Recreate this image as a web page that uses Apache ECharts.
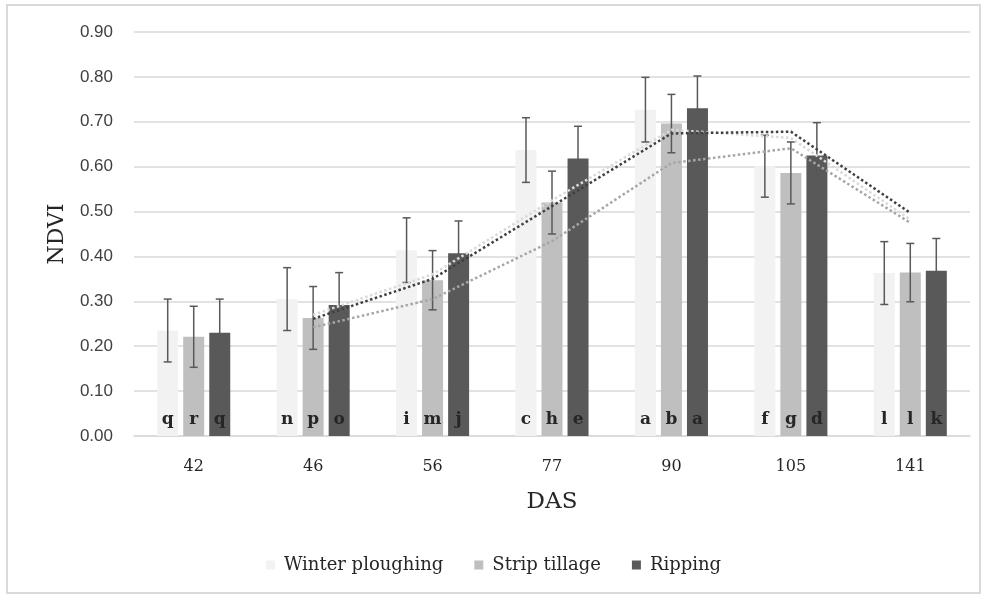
<!DOCTYPE html>
<html>
<head>
<meta charset="utf-8">
<script src="https://cdn.jsdelivr.net/npm/echarts@6/dist/echarts.min.js"></script>
<style>
  html, body { margin: 0; padding: 0; background: #fff; }
  #chart { width: 987px; height: 597px; }
</style>
</head>
<body>
<div id="chart"></div>
<script>
// categories (days after sowing)
var das = ['42', '46', '56', '77', '90', '105', '141'];

// mean NDVI per treatment
var winterPloughing = [0.235, 0.305, 0.414, 0.637, 0.727, 0.601, 0.363];
var stripTillage = [0.221, 0.263, 0.347, 0.520, 0.696, 0.586, 0.364];
var ripping = [0.230, 0.292, 0.407, 0.618, 0.730, 0.625, 0.368];

// error bar half lengths
var winterErr = [0.070, 0.070, 0.072, 0.072, 0.072, 0.069, 0.070];
var stripErr = [0.068, 0.070, 0.066, 0.070, 0.065, 0.069, 0.065];
var rippingErr = [0.075, 0.072, 0.072, 0.072, 0.072, 0.073, 0.072];

// significance letters
var winterLetters = ['q', 'n', 'i', 'c', 'a', 'f', 'l'];
var stripLetters = ['r', 'p', 'm', 'h', 'b', 'g', 'l'];
var rippingLetters = ['q', 'o', 'j', 'e', 'a', 'd', 'k'];

// dotted trend lines (2 period moving average)
var winterTrend = [null, 0.270, 0.360, 0.525, 0.682, 0.664, 0.482];
var stripTrend = [null, 0.242, 0.305, 0.434, 0.608, 0.641, 0.475];
var rippingTrend = [null, 0.261, 0.350, 0.512, 0.674, 0.678, 0.497];

var yTicks = ['0.00', '0.10', '0.20', '0.30', '0.40', '0.50', '0.60', '0.70', '0.80', '0.90'];

var colors = ['#f2f2f2', '#bfbfbf', '#595959'];
var serif = 'DejaVu Serif';

function barSeries(name, values, letters, color) {
  return {
    name: name,
    type: 'bar',
    data: values,
    barWidth: 21,
    barGap: '24%',
    itemStyle: { color: color },
    z: 2,
    label: {
      show: true,
      position: 'insideBottom',
      distance: 8,
      formatter: function (p) { return letters[p.dataIndex]; },
      fontFamily: serif,
      fontWeight: 'bold',
      fontSize: 17,
      color: '#262626'
    }
  };
}

function errSeries(name, values, errs, offset) {
  var data = values.map(function (v, i) { return [i, v - errs[i], v + errs[i]]; });
  return {
    name: name + ' err',
    type: 'custom',
    z: 4,
    silent: true,
    data: data,
    renderItem: function (params, api) {
      var lo = api.coord([api.value(0), api.value(1)]);
      var hi = api.coord([api.value(0), api.value(2)]);
      var x = lo[0] + offset;
      var w = 4;
      var st = { stroke: '#595959', lineWidth: 1.5 };
      return {
        type: 'group',
        children: [
          { type: 'line', shape: { x1: x, y1: lo[1], x2: x, y2: hi[1] }, style: st },
          { type: 'line', shape: { x1: x - w, y1: lo[1], x2: x + w, y2: lo[1] }, style: st },
          { type: 'line', shape: { x1: x - w, y1: hi[1], x2: x + w, y2: hi[1] }, style: st }
        ]
      };
    }
  };
}

function trendSeries(name, values, color) {
  return {
    name: name + ' trend',
    type: 'line',
    data: values,
    z: 5,
    symbol: 'none',
    silent: true,
    connectNulls: false,
    lineStyle: { color: color, width: 2.5, type: [2.5, 2.5], cap: 'butt' }
  };
}

var chart = echarts.init(document.getElementById('chart'));
chart.setOption({
  backgroundColor: '#ffffff',
  animation: false,
  graphic: [{
    type: 'rect',
    shape: { x: 7, y: 5, width: 973, height: 588 },
    style: { fill: 'none', stroke: '#d9d9d9', lineWidth: 2 },
    silent: true
  }],
  grid: { left: 134, right: 17, top: 32, bottom: 161 },
  legend: {
    data: ['Winter ploughing', 'Strip tillage', 'Ripping'],
    top: 551,
    left: 'center',
    itemWidth: 9,
    itemHeight: 9,
    itemGap: 31,
    icon: 'rect',
    textStyle: { fontFamily: serif, fontSize: 18, color: '#262626', padding: [0, 0, 0, 4] }
  },
  xAxis: {
    type: 'category',
    data: das,
    name: 'DAS',
    nameLocation: 'middle',
    nameGap: 55,
    nameTextStyle: { fontFamily: serif, fontSize: 23, color: '#262626' },
    axisLine: { lineStyle: { color: '#d9d9d9', width: 1.5 } },
    axisTick: { show: false },
    axisLabel: { margin: 23, fontFamily: serif, fontSize: 16, color: '#262626' }
  },
  yAxis: {
    type: 'value',
    min: 0,
    max: 0.9,
    interval: 0.1,
    name: 'NDVI',
    nameLocation: 'middle',
    nameGap: 66,
    nameTextStyle: { fontFamily: serif, fontSize: 22, color: '#262626' },
    axisLine: { show: false },
    axisTick: { show: false },
    splitLine: { lineStyle: { color: '#d9d9d9', width: 1.5 } },
    axisLabel: {
      margin: 21,
      fontFamily: 'Liberation Sans',
      fontSize: 17,
      color: '#404040',
      formatter: function (v) { return yTicks[Math.round(v * 10)]; }
    }
  },
  series: [
    barSeries('Winter ploughing', winterPloughing, winterLetters, colors[0]),
    barSeries('Strip tillage', stripTillage, stripLetters, colors[1]),
    barSeries('Ripping', ripping, rippingLetters, colors[2]),
    errSeries('Winter ploughing', winterPloughing, winterErr, -26),
    errSeries('Strip tillage', stripTillage, stripErr, 0),
    errSeries('Ripping', ripping, rippingErr, 26),
    trendSeries('Winter ploughing', winterTrend, '#d9d9d9'),
    trendSeries('Strip tillage', stripTrend, '#a6a6a6'),
    trendSeries('Ripping', rippingTrend, '#404040')
  ]
});
</script>
</body>
</html>
